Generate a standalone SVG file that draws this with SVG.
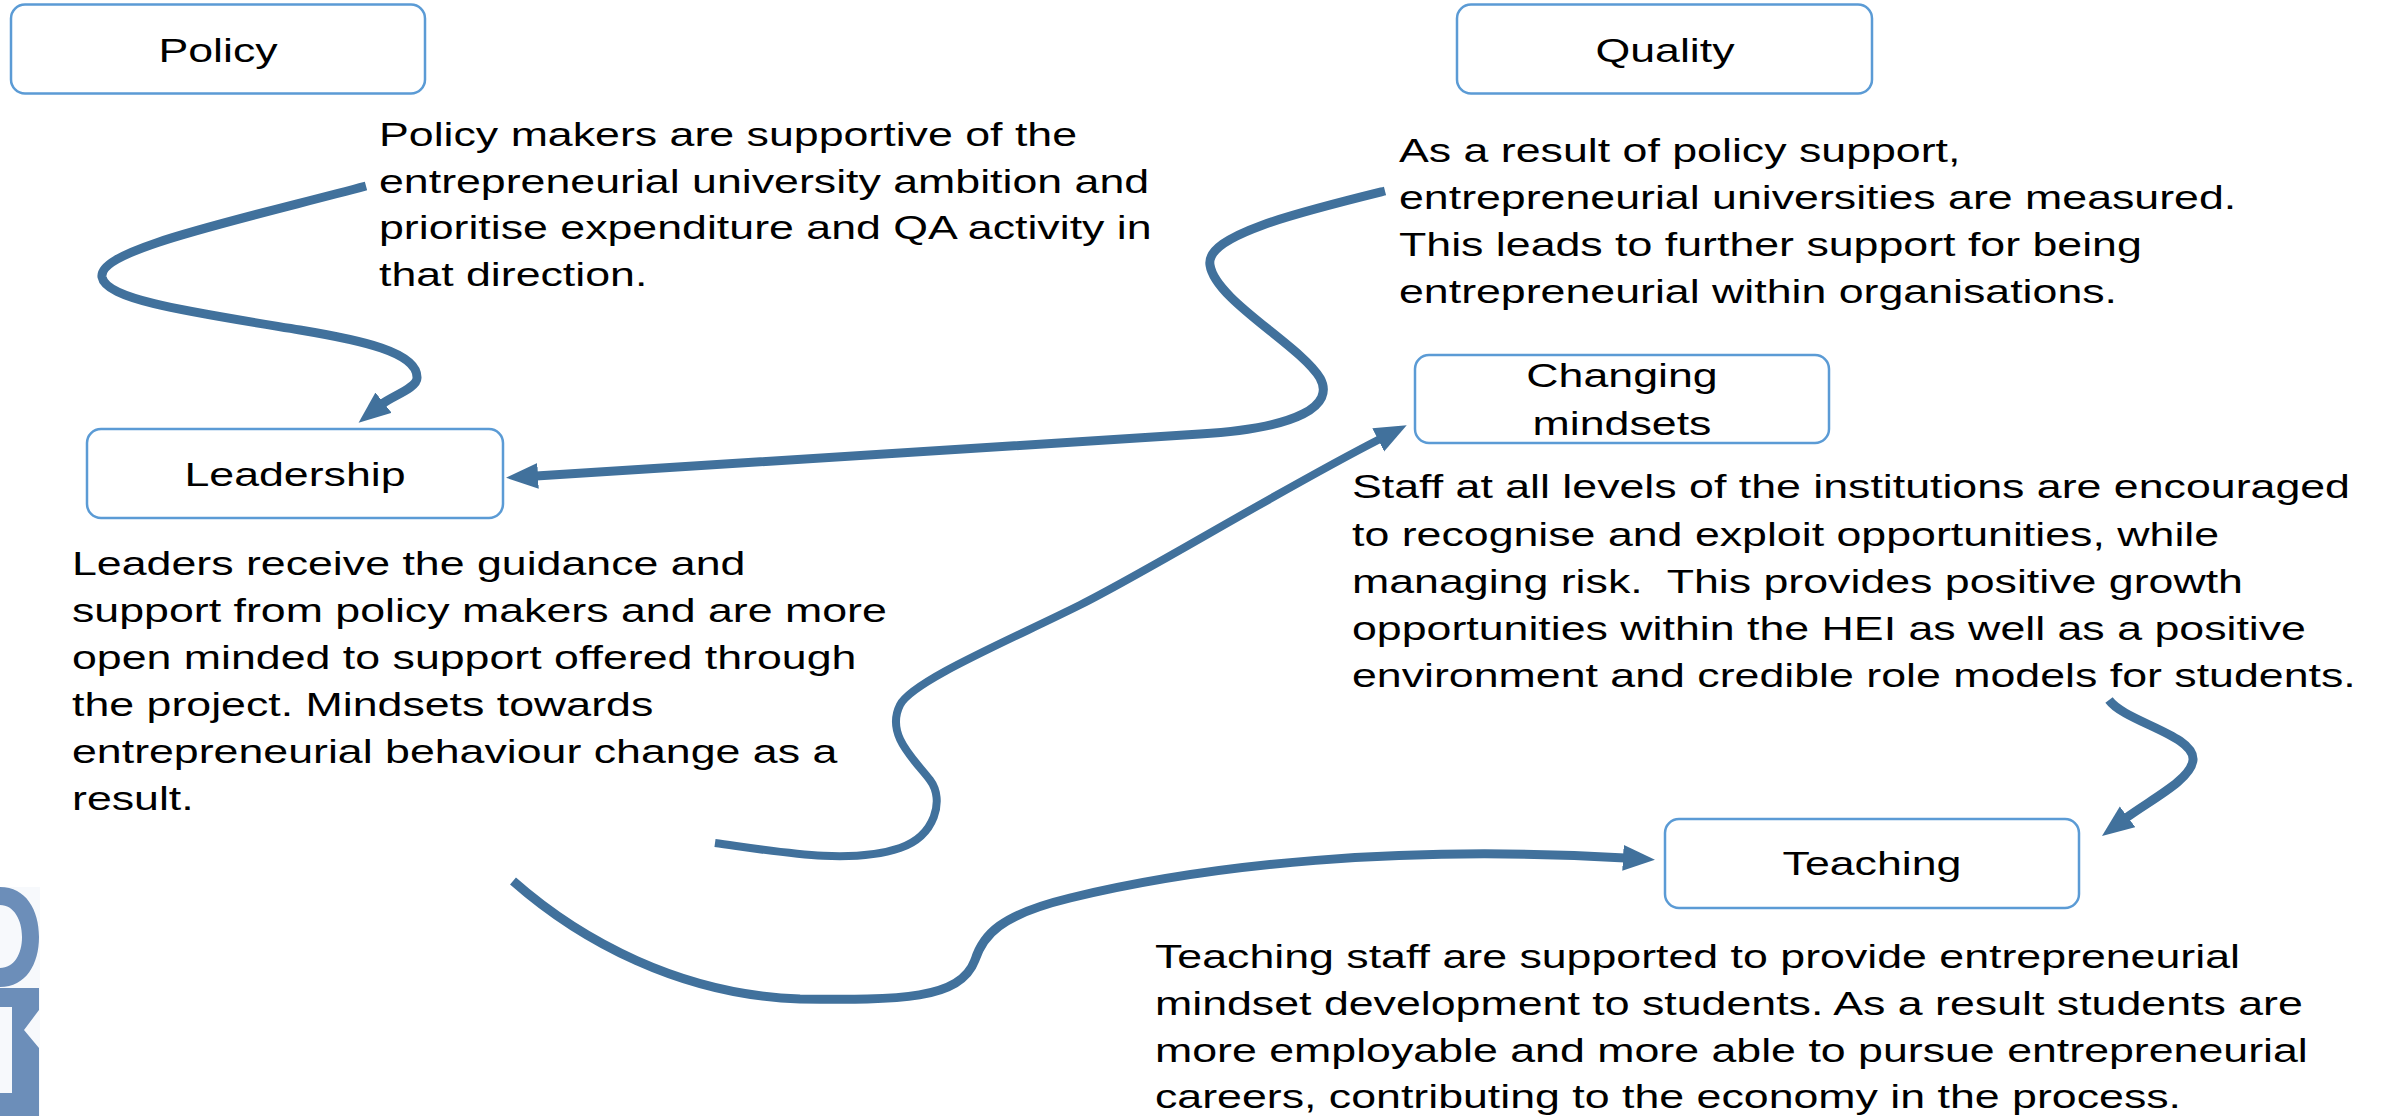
<svg xmlns="http://www.w3.org/2000/svg" width="2394" height="1116" viewBox="0 0 2394 1116">
<style>
.box{fill:#fff;stroke:#5B9BD5;stroke-width:2.5}
.t{font-family:"Liberation Sans",Arial,sans-serif;font-size:34px;fill:#000}
.c{text-anchor:middle}
.con{fill:none;stroke:#41719C;stroke-linecap:butt;stroke-linejoin:round}
.w9{stroke-width:9}
.w8{stroke-width:8}
.logo{fill:#6C8EB9}
</style>
<defs>
<marker id="ah" markerUnits="userSpaceOnUse" markerWidth="34" markerHeight="28" refX="2" refY="13" orient="auto">
<path d="M0,0 L32,13 L0,26 Z" fill="#41719C"/>
</marker>
</defs>
<rect width="2394" height="1116" fill="#fff"/>

<g id="logo">
<rect x="0" y="887" width="40" height="229" fill="#F7F9FC"/>
<path class="logo" fill-rule="evenodd" d="M0,887 C26,887 39,910 39,937 C39,964 26,987 0,987 Z M0,905 C14,905 22,920 22,937 C22,954 14,968 0,968 Z"/>
<path class="logo" d="M0,988 H39 V1010 L24,1030 L39,1048 V1116 H0 V1093 H12 V1007 H0 Z"/>
</g>

<g id="connectors">
<path class="con w9" marker-end="url(#ah)" d="M366,186 C230,222 98,250 102,277 C106,300 190,312 300,330 C360,340 418,352 417,378 C417,388 392,396 382,404"/>
<path class="con w9" marker-end="url(#ah)" d="M1385,191 C1300,212 1205,235 1210,265 C1215,300 1300,345 1320,378 C1335,405 1300,428 1200,434 C1000,448 780,462 536,476"/>
<path class="con w8" marker-end="url(#ah)" d="M715,843 C780,852 850,865 900,848 C935,836 945,800 930,780 C915,760 885,735 900,705 C912,681 1010,640 1080,605 C1150,570 1280,490 1380,439"/>
<path class="con w9" marker-end="url(#ah)" d="M513,881 C580,940 680,995 800,999 C900,1000 960,1000 975,960 C983,935 1000,915 1070,898 C1210,864 1400,845 1625,858"/>
<path class="con w9" marker-end="url(#ah)" d="M2109,700 C2125,722 2195,735 2193,760 C2191,780 2150,800 2126,818"/>
</g>

<g id="policy">
<rect class="box" x="11" y="4.5" width="414" height="89" rx="14"/>
<g transform="translate(218,0) scale(1.315,1)"><text class="t c" x="0" y="62.5">Policy</text></g>
<g transform="translate(379,0) scale(1.315,1)">
<text class="t" x="0" y="146">Policy makers are supportive of the</text>
<text class="t" x="0" y="192.7">entrepreneurial university ambition and</text>
<text class="t" x="0" y="239.4">prioritise expenditure and QA activity in</text>
<text class="t" x="0" y="286.1">that direction.</text>
</g>
</g>

<g id="quality">
<rect class="box" x="1457" y="4.5" width="415" height="89" rx="14"/>
<g transform="translate(1665,0) scale(1.315,1)"><text class="t c" x="0" y="62.5">Quality</text></g>
<g transform="translate(1399,0) scale(1.315,1)">
<text class="t" x="0" y="162.5">As a result of policy support,</text>
<text class="t" x="0" y="209.5">entrepreneurial universities are measured.</text>
<text class="t" x="0" y="256.5">This leads to further support for being</text>
<text class="t" x="0" y="303.5">entrepreneurial within organisations.</text>
</g>
</g>

<g id="leadership">
<rect class="box" x="87" y="429" width="416" height="89" rx="14"/>
<g transform="translate(295,0) scale(1.315,1)"><text class="t c" x="0" y="486.5">Leadership</text></g>
<g transform="translate(72,0) scale(1.315,1)">
<text class="t" x="0" y="575">Leaders receive the guidance and</text>
<text class="t" x="0" y="622">support from policy makers and are more</text>
<text class="t" x="0" y="669">open minded to support offered through</text>
<text class="t" x="0" y="716">the project. Mindsets towards</text>
<text class="t" x="0" y="763">entrepreneurial behaviour change as a</text>
<text class="t" x="0" y="810">result.</text>
</g>
</g>

<g id="changing-mindsets">
<rect class="box" x="1415" y="355" width="414" height="88" rx="14"/>
<g transform="translate(1622,0) scale(1.315,1)">
<text class="t c" x="0" y="387.5">Changing</text>
<text class="t c" x="0" y="435">mindsets</text>
</g>
<g transform="translate(1352,0) scale(1.315,1)">
<text class="t" x="0" y="498.5">Staff at all levels of the institutions are encouraged</text>
<text class="t" x="0" y="545.7">to recognise and exploit opportunities, while</text>
<text class="t" x="0" y="592.9" xml:space="preserve">managing risk.  This provides positive growth</text>
<text class="t" x="0" y="640.1">opportunities within the HEI as well as a positive</text>
<text class="t" x="0" y="687.3">environment and credible role models for students.</text>
</g>
</g>

<g id="teaching">
<rect class="box" x="1665" y="819" width="414" height="89" rx="14"/>
<g transform="translate(1872,0) scale(1.315,1)"><text class="t c" x="0" y="875.5">Teaching</text></g>
<g transform="translate(1155,0) scale(1.315,1)">
<text class="t" x="0" y="968">Teaching staff are supported to provide entrepreneurial</text>
<text class="t" x="0" y="1015">mindset development to students. As a result students are</text>
<text class="t" x="0" y="1062">more employable and more able to pursue entrepreneurial</text>
<text class="t" x="0" y="1108.5">careers, contributing to the economy in the process.</text>
</g>
</g>
</svg>
